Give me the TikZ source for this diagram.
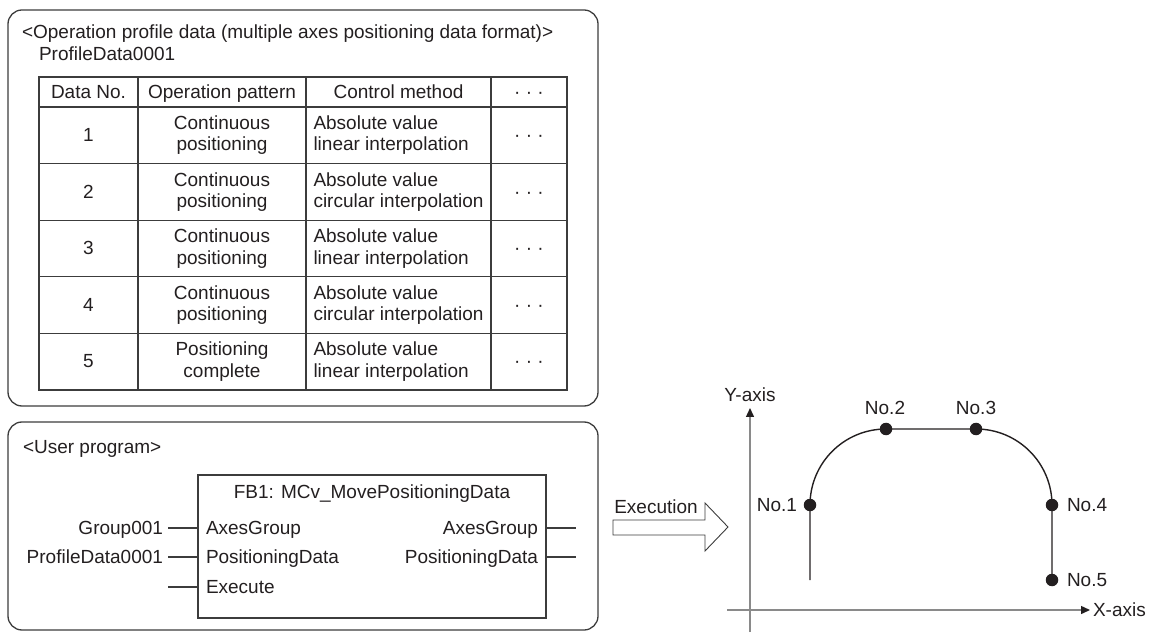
\documentclass[tikz,border=0pt]{standalone}
\usepackage{fontspec}
\setmainfont{Liberation Sans}
\usetikzlibrary{arrows.meta}
\definecolor{ink}{HTML}{231F20}
\definecolor{frame}{HTML}{3C3C3C}
\definecolor{axisgray}{HTML}{8A8A8A}
\begin{document}
\begin{tikzpicture}[x=1pt,y=1pt,
  font=\fontsize{19}{21.5}\selectfont, text=ink,
  every node/.style={inner sep=0pt, outer sep=0pt},
  t/.style={text height=13.5pt, text depth=1pt},
  cell/.style={align=center},
  cellL/.style={align=left, anchor=west},
  panel/.style={draw=frame, line width=1.3pt, rounded corners=14pt},
  gridline/.style={draw=frame, line width=1.1pt},
  wire/.style={draw=frame, line width=1.1pt},
  axisline/.style={draw=axisgray, line width=1.4pt},
  curveline/.style={draw=ink, line width=1.4pt},
  ptdot/.style={circle, fill=ink, minimum size=12.5pt},
  tip/.style={-{Triangle[length=9pt,width=8pt,color=ink]}}
]
\useasboundingbox (0,0) rectangle (1158,632);

% ---------- panels ----------
\draw[panel] (8,226) rectangle (598,622);
\draw[panel] (8,2) rectangle (598,210);

% ---------- operation profile data ----------
\node[t, anchor=west] (title) at (22,600) {<Operation profile data (multiple axes positioning data format)>};
\node[t, anchor=west] (pd) at (39,578) {ProfileData0001};

\draw[gridline] (39,242) rectangle (567,555);
\foreach \x in {138,306,491} \draw[gridline] (\x,242) -- (\x,555);
\foreach \y in {525,468.4,411.8,355.2,298.6} \draw[gridline] (39,\y) -- (567,\y);

\node[t] (h1) at (88.5,540) {Data No.};
\node[t] (h2) at (222,540) {Operation pattern};
\node[t] (h3) at (398.5,540) {Control method};
\node[t] (h4) at (529,540) {· · ·};

\node[t] (n1) at (88.5,496.7) {1};
\node[t] (n2) at (88.5,440.1) {2};
\node[t] (n3) at (88.5,383.5) {3};
\node[t] (n4) at (88.5,326.9) {4};
\node[t] (n5) at (88.5,270.3) {5};

\node[cell] (p1) at (222,496.7) {Continuous\\positioning};
\node[cell] (p2) at (222,440.1) {Continuous\\positioning};
\node[cell] (p3) at (222,383.5) {Continuous\\positioning};
\node[cell] (p4) at (222,326.9) {Continuous\\positioning};
\node[cell] (p5) at (222,270.3) {Positioning\\complete};

\node[cellL] (c1) at (313.5,496.7) {Absolute value\\linear interpolation};
\node[cellL] (c2) at (313.5,440.1) {Absolute value\\circular interpolation};
\node[cellL] (c3) at (313.5,383.5) {Absolute value\\linear interpolation};
\node[cellL] (c4) at (313.5,326.9) {Absolute value\\circular interpolation};
\node[cellL] (c5) at (313.5,270.3) {Absolute value\\linear interpolation};

\node[t] (d1) at (529,496.7) {· · ·};
\node[t] (d2) at (529,440.1) {· · ·};
\node[t] (d3) at (529,383.5) {· · ·};
\node[t] (d4) at (529,326.9) {· · ·};
\node[t] (d5) at (529,270.3) {· · ·};

% ---------- user program ----------
\node[t, anchor=west] (up) at (23,185) {<User program>};
\node[draw=frame, line width=1.3pt, minimum width=348pt, minimum height=143pt] (fb) at (372,85.5) {};
\node[t] (fbt) at (372,140) {FB1: MCv\_MovePositioningData};

\node[t, anchor=west] (iA) at (206,104) {AxesGroup};
\node[t, anchor=west] (iP) at (206,75) {PositioningData};
\node[t, anchor=west] (iE) at (206,45) {Execute};
\node[t, anchor=east] (oA) at (538,104) {AxesGroup};
\node[t, anchor=east] (oP) at (538,75) {PositioningData};

\node[t, anchor=east] (g1) at (163,104) {Group001};
\node[t, anchor=east] (g2) at (163,75) {ProfileData0001};
\coordinate (ex) at (168,45);
\coordinate (rA) at (576,104);
\coordinate (rP) at (576,75);

\draw[wire] ([xshift=5pt]g1.east) -- (g1.east -| fb.west);
\draw[wire] ([xshift=5pt]g2.east) -- (g2.east -| fb.west);
\draw[wire] (ex) -- (ex -| fb.west);
\draw[wire] (rA -| fb.east) -- (rA);
\draw[wire] (rP -| fb.east) -- (rP);

% ---------- execution arrow ----------
\draw[draw=frame, line width=0.9pt] (613,112) -- (705,112) -- (705,129) -- (728,105) -- (705,81) -- (705,97) -- (613,97) -- cycle;
\node[t] (exl) at (656,125) {Execution};

% ---------- graph ----------
\coordinate (yb) at (750,0);
\coordinate (yt) at (750,224);
\coordinate (xl) at (727,22);
\coordinate (xr) at (1090,22);
\draw[axisline, tip] (yb) -- (yt);
\draw[axisline, tip] (xl) -- (xr);
\node[t] (ylab) at (750,237) {Y-axis};
\node[t, anchor=west] (xlab) at (1093,22) {X-axis};

\coordinate (start) at (810,52);
\coordinate (P1) at (810,127);
\coordinate (P2) at (886,203);
\coordinate (P3) at (976,203);
\coordinate (P4) at (1052,127);
\coordinate (P5) at (1052,52);
\draw[curveline] (start) -- (P1) arc[start angle=180, end angle=90, radius=76] -- (P3) arc[start angle=90, end angle=0, radius=76] -- (P5);
\node[ptdot] (N1) at (P1) {};
\node[ptdot] (N2) at (P2) {};
\node[ptdot] (N3) at (P3) {};
\node[ptdot] (N4) at (P4) {};
\node[ptdot] (N5) at (P5) {};

\node[t, anchor=east] (l1) at (797,127) {No.1};
\node[t] (l2) at (885,224) {No.2};
\node[t] (l3) at (976,224) {No.3};
\node[t, anchor=west] (l4) at (1067,127) {No.4};
\node[t, anchor=west] (l5) at (1067,52) {No.5};
\end{tikzpicture}
\end{document}
